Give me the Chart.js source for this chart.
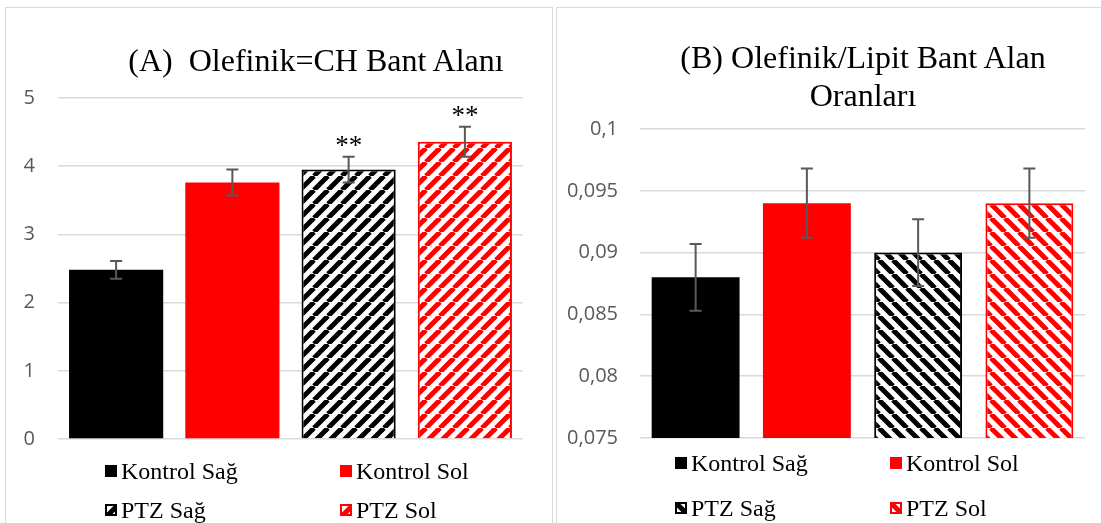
<!DOCTYPE html>
<html>
<head>
<meta charset="utf-8">
<script src="https://cdn.jsdelivr.net/npm/chart.js@4.4.1/dist/chart.umd.min.js"></script>
<style>
  body { margin: 0; width: 1101px; height: 523px; overflow: hidden; position: relative; background: #fff; }
  .serif { font-family: "Liberation Serif", "Times New Roman", "DejaVu Serif", serif; }
  .panel { position: absolute; border: 1px solid #d9d9d9; box-sizing: border-box; }
  #panelA { left: 5px; top: 7px; width: 548px; height: 540px; }
  #panelB { left: 556px; top: 7px; width: 560px; height: 540px; }
  canvas.chart { position: absolute; }
  .title { position: absolute; font-size: 32px; line-height: 38px; color: #000; white-space: pre; text-align: center; transform: translateX(-50%); }
  .leg { position: absolute; font-size: 24px; line-height: 26px; color: #000; white-space: pre; display: flex; align-items: center; }
  .leg canvas { margin-right: 4px; }
</style>
</head>
<body>
<div class="panel" id="panelA"></div>
<div class="panel" id="panelB"></div>
<canvas class="chart" id="chartA" width="546" height="515" style="left:6px;top:8px"></canvas>
<canvas class="chart" id="chartB" width="544" height="515" style="left:557px;top:8px"></canvas>
<div class="title serif" style="left:316px;top:41px">(A)  Olefinik=CH Bant Alanı</div>
<div class="title serif" style="left:863px;top:38px">(B) Olefinik/Lipit Bant Alan<br>Oranları</div>
<div id="legendA" class="serif"></div>
<div id="legendB" class="serif"></div>
<script>
// groups, shared by both charts
const groups = ['Kontrol Sağ', 'Kontrol Sol', 'PTZ Sağ', 'PTZ Sol'];
const groupColors = ['#000000', '#ff0000', '#000000', '#ff0000'];
const groupHatched = [false, false, true, true];

// (A) olefinic =CH band area, mean and error
const areaMean = [2.48, 3.76, 3.95, 4.36];
const areaErr = [0.13, 0.19, 0.19, 0.22];
const areaMarks = ['', '', '**', '**'];
const areaTicks = { min: 0, max: 5, step: 1 };

// (B) olefinic/lipid band area ratio, mean and error
const ratioMean = [0.088, 0.094, 0.090, 0.094];
const ratioErr = [0.0027, 0.0028, 0.0027, 0.0028];
const ratioMarks = ['', '', '', ''];
const ratioTicks = { min: 0.075, max: 0.1, step: 0.005 };

const SERIF = '"Liberation Serif", "Times New Roman", "DejaVu Serif", serif';

// diagonal stripe fill; dir 1 = "/", -1 = "\"
function stripes(ctx, color, dir) {
  const s = 14;
  const c = document.createElement('canvas');
  c.width = c.height = s;
  const g = c.getContext('2d');
  g.fillStyle = '#fff';
  g.fillRect(0, 0, s, s);
  g.strokeStyle = color;
  g.lineWidth = 5;
  for (const o of [-s, 0, s]) {
    g.beginPath();
    if (dir > 0) { g.moveTo(o, s); g.lineTo(o + s, 0); }
    else { g.moveTo(o, 0); g.lineTo(o + s, s); }
    g.stroke();
  }
  return ctx.createPattern(c, 'repeat');
}

// error bars + significance marks on top of each bar
const errorBars = {
  id: 'errorBars',
  afterDatasetsDraw(chart) {
    const ctx = chart.ctx;
    const y = chart.scales.y;
    ctx.save();
    chart.data.datasets.forEach((ds, i) => {
      const bar = chart.getDatasetMeta(i).data[0];
      const v = ds.data[0], e = ds.err;
      const top = y.getPixelForValue(v + e);
      const bot = y.getPixelForValue(v - e);
      const x = bar.x;
      ctx.strokeStyle = '#595959';
      ctx.lineWidth = 2;
      ctx.beginPath();
      ctx.moveTo(x, top); ctx.lineTo(x, bot);
      ctx.moveTo(x - 6, top); ctx.lineTo(x + 6, top);
      ctx.moveTo(x - 6, bot); ctx.lineTo(x + 6, bot);
      ctx.stroke();
      if (ds.mark) {
        ctx.fillStyle = '#000';
        ctx.font = '27px ' + SERIF;
        ctx.textAlign = 'center';
        ctx.textBaseline = 'alphabetic';
        ctx.fillText(ds.mark, x, top - 3);
      }
    });
    ctx.restore();
  }
};

function fmtTick(v) {
  return String(Math.round(v * 1000) / 1000).replace('.', ',');
}

function makeChart(id, means, errs, marks, ticks, dir, axisW, tickPad, pad, barPct) {
  const canvas = document.getElementById(id);
  const ctx = canvas.getContext('2d');
  const datasets = groups.map((name, i) => ({
    label: name,
    data: [means[i]],
    err: errs[i],
    mark: marks[i],
    backgroundColor: groupHatched[i] ? stripes(ctx, groupColors[i], dir) : groupColors[i],
    borderColor: groupColors[i],
    borderWidth: groupHatched[i] ? 2 : 0,
    barPercentage: barPct,
    categoryPercentage: 1
  }));
  return new Chart(ctx, {
    type: 'bar',
    data: { labels: [''], datasets },
    plugins: [errorBars],
    options: {
      responsive: false,
      animation: false,
      layout: { padding: pad },
      plugins: { legend: { display: false }, title: { display: false }, tooltip: { enabled: false } },
      scales: {
        x: { display: false },
        y: {
          min: ticks.min,
          max: ticks.max,
          border: { display: false },
          grid: { color: '#d9d9d9', lineWidth: 1.6, drawTicks: false },
          ticks: {
            stepSize: ticks.step,
            padding: tickPad,
            color: '#595959',
            font: { family: 'Open Sans', size: 20 },
            callback: fmtTick
          },
          afterFit(s) { s.width = axisW; s.paddingTop = 0; s.paddingBottom = 0; }
        }
      }
    }
  });
}

const chartA = makeChart('chartA', areaMean, areaErr, areaMarks, areaTicks, 1, 52, 23,
  { left: 0, right: 29, top: 90, bottom: 84 }, 0.81);
const chartB = makeChart('chartB', ratioMean, ratioErr, ratioMarks, ratioTicks, -1, 83, 22,
  { left: 0, right: 16, top: 121, bottom: 85 }, 0.79);

// legends: two columns, two rows
function buildLegend(holder, chart, cols, rows) {
  chart.data.datasets.forEach((ds, i) => {
    const item = document.createElement('div');
    item.className = 'leg';
    item.style.left = cols[i % 2] + 'px';
    item.style.top = (rows[Math.floor(i / 2)] - 13) + 'px';
    const sw = document.createElement('canvas');
    sw.width = sw.height = 12;
    const g = sw.getContext('2d');
    g.fillStyle = ds.backgroundColor;
    g.fillRect(0, 0, 12, 12);
    if (ds.borderWidth) {
      g.strokeStyle = ds.borderColor;
      g.lineWidth = 2;
      g.strokeRect(1, 1, 10, 10);
    }
    item.appendChild(sw);
    item.appendChild(document.createTextNode(ds.label));
    document.getElementById(holder).appendChild(item);
  });
}
buildLegend('legendA', chartA, [105, 340], [471, 510]);
buildLegend('legendB', chartB, [675, 890], [463, 508]);
</script>
</body>
</html>
